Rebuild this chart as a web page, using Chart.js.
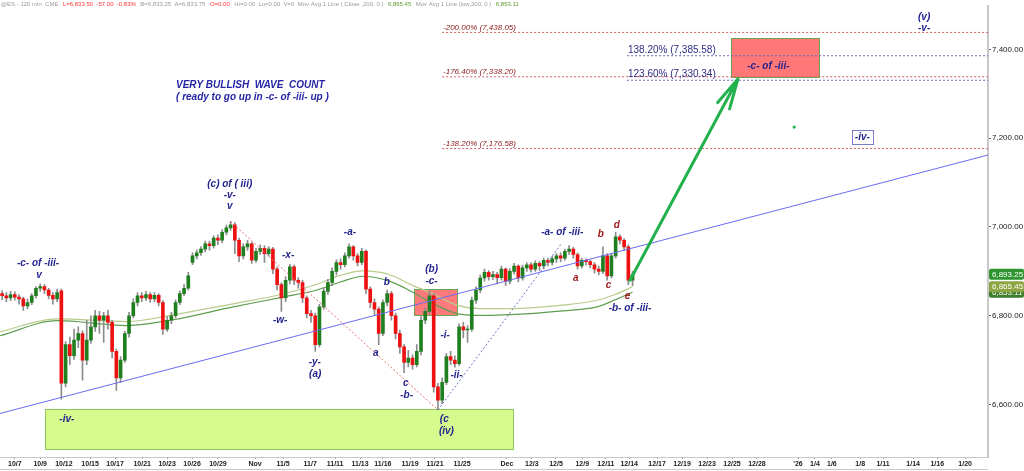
<!DOCTYPE html>
<html>
<head>
<meta charset="utf-8">
<script src="https://cdn.jsdelivr.net/npm/chart.js@4.4.1/dist/chart.umd.min.js"></script>
<style>
  html, body { margin: 0; padding: 0; background: #fff; }
  #chart-container { position: relative; width: 1024px; height: 471px; }
</style>
</head>
<body>
<div id="chart-container"><canvas id="esChart"></canvas></div>
<script>
// ES 120 min - velas (aprox. 3 por sesion)
const opens = [
  6850, 6845, 6840, 6848, 6842, 6838, 6822, 6830, 6845, 6862,
  6866, 6858, 6846, 6838, 6856, 6648, 6735, 6710, 6745, 6760,
  6700, 6745, 6775, 6800, 6790, 6800, 6785, 6720, 6660, 6700,
  6760, 6800, 6830, 6845, 6840, 6848, 6838, 6846, 6830, 6770,
  6790, 6800, 6830, 6850, 6862, 6920, 6935, 6942, 6950, 6962,
  6958, 6975, 6970, 6988, 6998, 7005, 6970, 6935, 6955, 6962,
  6925, 6945, 6952, 6940, 6950, 6905, 6870, 6840, 6880, 6910,
  6880, 6875, 6840, 6805, 6800, 6735, 6820, 6855, 6875, 6900,
  6920, 6915, 6935, 6955, 6935, 6920, 6945, 6860, 6830, 6815,
  6760, 6830, 6850, 6800, 6760, 6730, 6695, 6705, 6690, 6720,
  6790, 6810, 6845, 6640, 6610, 6650, 6708, 6700, 6692, 6775,
  6768, 6770, 6835, 6858, 6885, 6898, 6888, 6893, 6886, 6905,
  6878, 6900, 6912, 6885, 6908, 6915, 6905, 6918, 6912, 6925,
  6920, 6928, 6935, 6930, 6945, 6950, 6938, 6912, 6925, 6922,
  6915, 6905, 6900, 6935, 6890, 6935, 6978, 6970, 6955, 6880
];
const highs = [
  6856, 6852, 6855, 6854, 6848, 6842, 6838, 6850, 6866, 6872,
  6870, 6862, 6852, 6860, 6860, 6742, 6752, 6770, 6775, 6766,
  6790, 6800, 6812, 6810, 6808, 6812, 6790, 6725, 6708, 6765,
  6808, 6838, 6852, 6852, 6855, 6852, 6852, 6850, 6834, 6798,
  6808, 6836, 6856, 6870, 6898, 6942, 6948, 6956, 6968, 6968,
  6980, 6982, 6994, 7004, 7012, 7010, 6975, 6962, 6970, 6966,
  6952, 6960, 6958, 6956, 6954, 6910, 6875, 6888, 6916, 6914,
  6886, 6880, 6845, 6812, 6806, 6826, 6862, 6882, 6908, 6926,
  6928, 6942, 6962, 6958, 6940, 6952, 6948, 6865, 6838, 6820,
  6836, 6858, 6855, 6806, 6768, 6735, 6722, 6712, 6735, 6798,
  6818, 6856, 6850, 6648, 6660, 6715, 6720, 6710, 6782, 6785,
  6778, 6842, 6865, 6892, 6905, 6902, 6900, 6898, 6912, 6908,
  6906, 6918, 6915, 6914, 6920, 6920, 6924, 6922, 6930, 6930,
  6934, 6940, 6942, 6950, 6958, 6954, 6942, 6930, 6928, 6926,
  6920, 6912, 6955, 6940, 6940, 6988, 6982, 6974, 6960, 6900
];
const lows = [
  6836, 6832, 6834, 6835, 6826, 6812, 6816, 6825, 6840, 6855,
  6850, 6838, 6826, 6832, 6612, 6640, 6690, 6702, 6728, 6655,
  6690, 6738, 6765, 6760, 6740, 6770, 6705, 6632, 6650, 6695,
  6752, 6795, 6822, 6832, 6834, 6830, 6832, 6822, 6758, 6765,
  6782, 6795, 6825, 6845, 6858, 6915, 6928, 6936, 6944, 6948,
  6952, 6960, 6964, 6982, 6992, 6940, 6922, 6928, 6948, 6918,
  6920, 6938, 6920, 6934, 6895, 6858, 6810, 6832, 6872, 6870,
  6862, 6830, 6795, 6785, 6720, 6730, 6815, 6848, 6868, 6892,
  6905, 6910, 6930, 6925, 6912, 6915, 6850, 6818, 6800, 6735,
  6755, 6822, 6790, 6748, 6715, 6672, 6685, 6680, 6685, 6712,
  6782, 6805, 6628, 6588, 6602, 6645, 6690, 6684, 6688, 6750,
  6740, 6765, 6828, 6852, 6878, 6880, 6882, 6872, 6880, 6868,
  6872, 6894, 6876, 6880, 6900, 6898, 6900, 6902, 6906, 6912,
  6914, 6920, 6922, 6925, 6938, 6930, 6905, 6908, 6914, 6908,
  6896, 6892, 6895, 6880, 6885, 6930, 6962, 6948, 6870, 6868
];
const closes = [
  6845, 6840, 6848, 6842, 6838, 6822, 6830, 6845, 6862, 6866,
  6858, 6846, 6838, 6852, 6648, 6735, 6710, 6745, 6760, 6700,
  6745, 6775, 6800, 6790, 6800, 6785, 6720, 6660, 6700, 6760,
  6800, 6830, 6845, 6840, 6848, 6838, 6846, 6830, 6770, 6790,
  6800, 6830, 6850, 6862, 6890, 6935, 6942, 6950, 6962, 6958,
  6975, 6970, 6988, 6998, 7005, 6970, 6935, 6955, 6962, 6925,
  6945, 6952, 6940, 6950, 6905, 6870, 6840, 6880, 6910, 6880,
  6875, 6840, 6805, 6800, 6735, 6820, 6855, 6875, 6900, 6920,
  6915, 6935, 6955, 6935, 6920, 6945, 6860, 6830, 6815, 6760,
  6830, 6850, 6800, 6760, 6730, 6695, 6705, 6690, 6720, 6790,
  6810, 6845, 6640, 6610, 6650, 6708, 6700, 6692, 6775, 6768,
  6770, 6835, 6858, 6885, 6898, 6888, 6893, 6886, 6905, 6878,
  6900, 6912, 6885, 6908, 6915, 6905, 6918, 6912, 6925, 6920,
  6928, 6935, 6930, 6945, 6950, 6938, 6912, 6925, 6922, 6915,
  6905, 6900, 6935, 6890, 6935, 6978, 6970, 6955, 6880, 6893.25
];

// Medias moviles 200 (cierre y minimo), muestreadas
const maPos   = [0, 13.5, 30, 40.9, 55.1, 66.9, 74.9, 80.4, 85.8, 92, 97.6, 101.6, 108, 113.4, 125.3, 133, 141.1, 145.4, 149.5];
const maClose = [6764, 6793, 6787, 6802, 6827, 6849, 6871, 6891, 6901, 6893, 6868, 6853, 6824, 6816, 6818, 6824, 6835, 6848, 6865.45];
const maLow   = [6755, 6789, 6778, 6791, 6820, 6842, 6858, 6876, 6889, 6878, 6853, 6831, 6805, 6801, 6805, 6811, 6820, 6836, 6853.11];

// Eje X: etiquetas de fecha
const tickLabels = ['10/7','10/9','10/12','10/15','10/17','10/21','10/23','10/26','10/29','Nov','11/5','11/7','11/11','11/13','11/16','11/19','11/21','11/25','Dec','12/3','12/5','12/9','12/11','12/14','12/17','12/19','12/23','12/25','12/28',"'26",'1/4','1/6','1/8','1/11','1/14','1/16','1/20'];
const tickPos = [3.5, 9.5, 15.1, 21.3, 27.2, 33.6, 39.5, 45.4, 51.5, 60.3, 66.9, 73.3, 79.2, 85.1, 90.5, 96.9, 102.8, 109.2, 119.8, 125.7, 131.4, 137.6, 143.2, 148.7, 155.3, 161.2, 167.1, 173.0, 178.9, 188.6, 192.6, 196.6, 203.3, 208.7, 215.8, 221.5, 228.1];
const priceTicks = [6600, 6800, 7000, 7200, 7400];

// Niveles de Fibonacci
const fibNames  = ['-200.00%', '-176.40%', '-138.20%'];
const fibValues = [7438.05, 7338.20, 7176.58];
const extNames  = ['138.20%', '123.60%'];
const extValues = [7385.58, 7330.34];

// Linea de tendencia y conexiones punteadas
const trendPos = [0, 233.5];
const trendVals = [6580, 7162];
const dropPos = [54.5, 103.5];
const dropVals = [7012, 6588];
const risePos = [103.5, 132.8];
const riseVals = [6588, 6964];

const NAVY = '#23238e';
const DARKRED = '#a01c1c';
const FONT = '"Liberation Sans", Arial, sans-serif';

// Etiquetas del conteo de ondas
const notes = [
  { t: '-c- of -iii-', x: 9.0, y: 6918 },
  { t: 'v', x: 9.2, y: 6891 },
  { t: '-iv-', x: 15.8, y: 6567 },
  { t: '(c) of ( iii)', x: 54.3, y: 7096 },
  { t: '-v-', x: 54.3, y: 7071 },
  { t: 'v', x: 54.3, y: 7046 },
  { t: '-x-', x: 68.1, y: 6936 },
  { t: '-w-', x: 66.2, y: 6790 },
  { t: '-y-', x: 74.4, y: 6696 },
  { t: '(a)', x: 74.5, y: 6669 },
  { t: '-a-', x: 82.7, y: 6989 },
  { t: 'b', x: 91.4, y: 6876 },
  { t: 'a', x: 88.8, y: 6716 },
  { t: 'c', x: 95.9, y: 6647 },
  { t: '-b-', x: 96.1, y: 6621 },
  { t: '(b)', x: 102.0, y: 6905 },
  { t: '-c-', x: 102.0, y: 6878 },
  { t: '-i-', x: 105.2, y: 6756 },
  { t: '-ii-', x: 107.9, y: 6666 },
  { t: '(c', x: 105.0, y: 6567 },
  { t: '(iv)', x: 105.5, y: 6541 },
  { t: '-a- of -iii-', x: 132.9, y: 6987 },
  { t: '-b- of -iii-', x: 148.9, y: 6818 },
  { t: 'a', x: 136.1, y: 6885, c: DARKRED },
  { t: 'b', x: 142.0, y: 6983, c: DARKRED },
  { t: 'c', x: 143.8, y: 6868, c: DARKRED },
  { t: 'd', x: 145.8, y: 7003, c: DARKRED },
  { t: 'e', x: 148.3, y: 6843, c: DARKRED },
  { t: '(v)', x: 218.4, y: 7472 },
  { t: '-v-', x: 218.4, y: 7447 }
];

// Zonas (cajas)
const zones = [
  { x0: 10.6, x1: 121.2, top: 6589, bottom: 6500, fill: '#d5fb8e', stroke: '#8fc45a' },
  { x0: 97.8, x1: 108.0, top: 6860, bottom: 6802, fill: '#ff7b7b', stroke: '#6aa84f' },
  { x0: 172.8, x1: 193.6, top: 7426, bottom: 7338, fill: '#ff7777', stroke: '#6aa84f' }
];

const candleX = closes.map((c, i) => i + 0.5);

function lineData(xs, ys) {
  return xs.map((v, i) => ({ x: v, y: ys[i] }));
}

function fmt(v) {
  return v.toLocaleString('en-US', { minimumFractionDigits: 2, maximumFractionDigits: 2 });
}

const waveNotes = {
  id: 'waveNotes',
  beforeDatasetsDraw(chart) {
    const { ctx, scales: { x, y } } = chart;
    ctx.save();
    zones.forEach(z => {
      const x0 = Math.round(x.getPixelForValue(z.x0)), x1 = Math.round(x.getPixelForValue(z.x1));
      const y0 = Math.round(y.getPixelForValue(z.top)), y1 = Math.round(y.getPixelForValue(z.bottom));
      ctx.fillStyle = z.fill;
      ctx.fillRect(x0, y0, x1 - x0, y1 - y0);
      ctx.strokeStyle = z.stroke;
      ctx.lineWidth = 1;
      ctx.strokeRect(x0 + 0.5, y0 + 0.5, x1 - x0, y1 - y0);
    });
    ctx.restore();
  },
  afterDatasetsDraw(chart) {
    const { ctx, scales: { x, y } } = chart;
    ctx.save();

    // flecha verde hacia el objetivo
    const ax0 = x.getPixelForValue(148.9), ay0 = y.getPixelForValue(6880);
    const ax1 = x.getPixelForValue(174.4), ay1 = y.getPixelForValue(7333);
    ctx.strokeStyle = '#22b14c';
    ctx.lineWidth = 3;
    ctx.lineCap = 'round';
    ctx.beginPath();
    ctx.moveTo(ax0, ay0);
    ctx.lineTo(ax1, ay1);
    const ang = Math.atan2(ay0 - ay1, ax0 - ax1);
    [0.22, -0.22].forEach(d => {
      ctx.moveTo(ax1, ay1);
      ctx.lineTo(ax1 + 31 * Math.cos(ang + d), ay1 + 31 * Math.sin(ang + d));
    });
    ctx.stroke();

    // punto verde
    ctx.fillStyle = '#22b14c';
    ctx.beginPath();
    ctx.arc(x.getPixelForValue(187.7), y.getPixelForValue(7225), 1.6, 0, Math.PI * 2);
    ctx.fill();

    // etiquetas de ondas
    ctx.textAlign = 'center';
    ctx.textBaseline = 'middle';
    ctx.font = 'italic bold 10px ' + FONT;
    notes.forEach(n => {
      ctx.fillStyle = n.c || NAVY;
      ctx.fillText(n.t, x.getPixelForValue(n.x), y.getPixelForValue(n.y));
    });

    // -iv- en caja
    const ix = x.getPixelForValue(203.8), iy = y.getPixelForValue(7202);
    const iw = ctx.measureText('-iv-').width + 6;
    ctx.fillStyle = '#fff';
    ctx.fillRect(ix - iw / 2, iy - 7, iw, 14);
    ctx.strokeStyle = '#7b7bc8';
    ctx.lineWidth = 1;
    ctx.strokeRect(Math.round(ix - iw / 2) + 0.5, Math.round(iy - 7) + 0.5, Math.round(iw), 14);
    ctx.fillStyle = NAVY;
    ctx.fillText('-iv-', ix, iy);

    // texto de la caja objetivo
    ctx.fillText('-c- of -iii-', x.getPixelForValue(181.6), y.getPixelForValue(7362));

    // titulo
    ctx.textAlign = 'left';
    ctx.fillStyle = '#2525a5';
    ctx.fillText('VERY BULLISH  WAVE  COUNT', x.getPixelForValue(41.6), y.getPixelForValue(7320));
    ctx.fillText('( ready to go up in -c- of -iii- up )', x.getPixelForValue(41.6), y.getPixelForValue(7291));

    // etiquetas de Fibonacci
    ctx.textBaseline = 'alphabetic';
    ctx.font = 'italic 8px ' + FONT;
    ctx.fillStyle = '#8b1a1a';
    fibValues.forEach((v, i) => {
      ctx.fillText(fibNames[i] + ' (' + fmt(v) + ')', x.getPixelForValue(104.7), y.getPixelForValue(v) - 2.5);
    });
    ctx.font = '10px ' + FONT;
    ctx.fillStyle = '#2e2e80';
    extValues.forEach((v, i) => {
      ctx.fillText(extNames[i] + ' (' + fmt(v) + ')', x.getPixelForValue(148.4), y.getPixelForValue(v) - 3);
    });
    ctx.restore();
  },
  afterDraw(chart) {
    const { ctx, chartArea, scales: { y } } = chart;
    ctx.save();

    // linea inferior del eje de fechas
    ctx.strokeStyle = '#c8c8c8';
    ctx.lineWidth = 1;
    ctx.beginPath();
    ctx.moveTo(0, 469.5);
    ctx.lineTo(chartArea.right, 469.5);
    ctx.stroke();

    // cajas de precio en el eje derecho
    const boxes = [
      { v: maLow[maLow.length - 1], c: '#3e7d2c' },
      { v: maClose[maClose.length - 1], c: '#8da543' },
      { v: closes[closes.length - 1], c: '#2f962f' }
    ];
    ctx.font = '8px ' + FONT;
    ctx.textBaseline = 'middle';
    ctx.textAlign = 'left';
    boxes.forEach(b => {
      const py = y.getPixelForValue(b.v);
      ctx.fillStyle = b.c;
      ctx.beginPath();
      ctx.roundRect(chartArea.right + 1, py - 5.5, 35, 11, 2);
      ctx.fill();
      ctx.fillStyle = '#fff';
      ctx.fillText(fmt(b.v), chartArea.right + 4, py + 0.5);
    });

    // cabecera
    const segs = [
      ['@ES - 120 min  CME', '#9a9a9a'],
      ['L=6,833.50  -57.00  -0.83%', '#ff3333'],
      ['B=6,833.25  A=6,833.75', '#9a9a9a'],
      ['O=0.00', '#ff3333'],
      ['Hi=0.00  Lo=0.00  V=0  Mov Avg 1 Line ( Close ,200, 0 )', '#9a9a9a'],
      ['6,865.45', '#5a9a2a'],
      ['Mov Avg 1 Line (low,200, 0 )', '#9a9a9a'],
      ['6,853.11', '#5a9a2a']
    ];
    ctx.font = '6px ' + FONT;
    let hx = 1;
    segs.forEach(s => {
      ctx.fillStyle = s[1];
      ctx.fillText(s[0], hx, 4.5);
      hx += ctx.measureText(s[0]).width + 4.5;
    });
    ctx.restore();
  }
};

const ctx = document.getElementById('esChart');

new Chart(ctx, {
  type: 'bar',
  data: {
    datasets: [
      {
        type: 'line', label: 'MA close 200',
        data: lineData(maPos, maClose),
        borderColor: '#b7cc8c', borderWidth: 1.2, pointRadius: 0,
        cubicInterpolationMode: 'monotone', order: 8
      },
      {
        type: 'line', label: 'MA low 200',
        data: lineData(maPos, maLow),
        borderColor: '#5f9e4f', borderWidth: 1.2, pointRadius: 0,
        cubicInterpolationMode: 'monotone', order: 8
      },
      {
        label: 'wicks',
        data: candleX.map((v, i) => ({ x: v, y: [lows[i], highs[i]] })),
        backgroundColor: '#8c8c8c',
        barThickness: 1, grouped: false, order: 6
      },
      {
        label: 'bodies',
        data: candleX.map((v, i) => ({ x: v, y: [opens[i], closes[i]] })),
        backgroundColor: closes.map((c, i) => c >= opens[i] ? '#1f7f1f' : '#ee1111'),
        barThickness: 3, grouped: false, minBarLength: 1, order: 5
      },
      {
        type: 'line', label: 'trend',
        data: lineData(trendPos, trendVals),
        borderColor: '#6b6bf0', borderWidth: 1, pointRadius: 0, order: 2
      },
      {
        type: 'line', label: 'drop',
        data: lineData(dropPos, dropVals),
        borderColor: '#e07070', borderWidth: 1, borderDash: [2, 2], pointRadius: 0, order: 3
      },
      {
        type: 'line', label: 'rise',
        data: lineData(risePos, riseVals),
        borderColor: '#7070c8', borderWidth: 1, borderDash: [2, 2], pointRadius: 0, order: 3
      },
      ...fibValues.map(v => ({
        type: 'line', label: 'fib',
        data: lineData([104.5, 233.5], [v, v]),
        borderColor: '#d06060', borderWidth: 1, borderDash: [2, 2], pointRadius: 0, order: 3
      })),
      ...extValues.map(v => ({
        type: 'line', label: 'ext',
        data: lineData([148.2, 233.5], [v, v]),
        borderColor: '#6a6ac0', borderWidth: 1, borderDash: [2, 2], pointRadius: 0, order: 3
      }))
    ]
  },
  options: {
    responsive: true,
    maintainAspectRatio: false,
    animation: false,
    devicePixelRatio: 1,
    layout: { padding: 0 },
    plugins: {
      legend: { display: false },
      tooltip: { enabled: false }
    },
    scales: {
      x: {
        type: 'linear',
        min: 0,
        max: 233.5,
        offset: false,
        afterBuildTicks: scale => { scale.ticks = tickPos.map(v => ({ value: v })); },
        afterFit: scale => { scale.height = 14; },
        grid: { offset: false, drawOnChartArea: false, drawTicks: true, tickLength: 2, color: '#999' },
        border: { display: true, color: '#c8c8c8', width: 1 },
        ticks: {
          autoSkip: false, maxRotation: 0, padding: 1,
          color: '#222',
          font: { family: FONT, size: 7, weight: 'bold' },
          callback: (value, index) => tickLabels[index]
        }
      },
      y: {
        position: 'right',
        min: 6482,
        max: 7498,
        afterBuildTicks: scale => { scale.ticks = priceTicks.map(v => ({ value: v })); },
        afterFit: scale => { scale.width = 36; },
        grid: { drawOnChartArea: false, drawTicks: true, tickLength: 3, color: '#666' },
        border: { display: true, color: '#c8c8c8', width: 2 },
        ticks: {
          padding: 1,
          color: '#222',
          font: { family: FONT, size: 8 },
          callback: v => fmt(v)
        }
      }
    }
  },
  plugins: [waveNotes]
});
</script>
</body>
</html>
